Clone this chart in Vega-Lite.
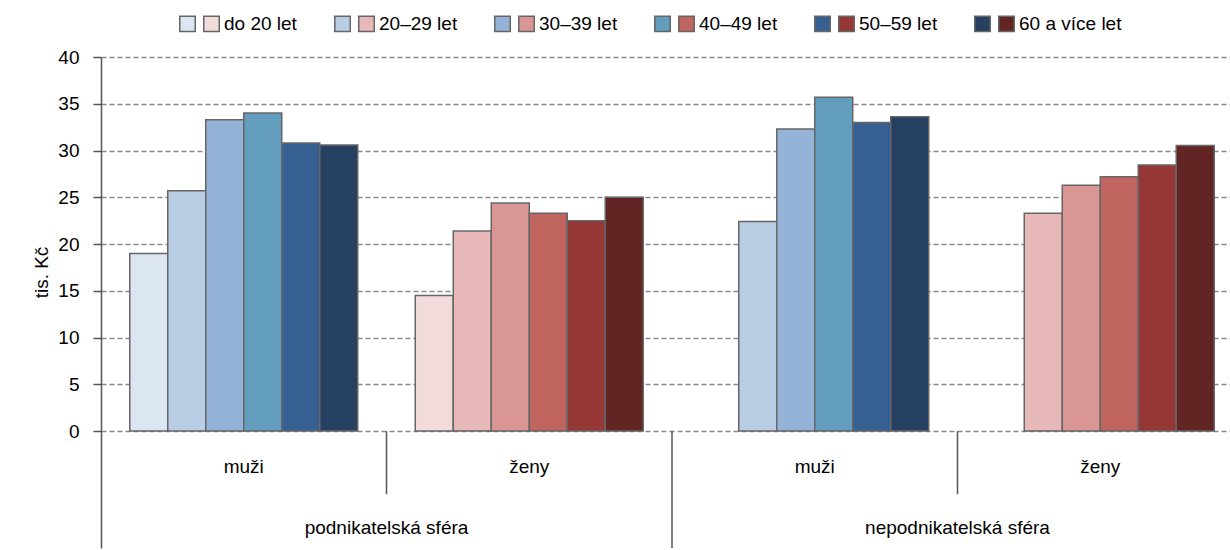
{
  "$schema": "https://vega.github.io/schema/vega-lite/v6.json",
  "autosize": "none",
  "width": 1142,
  "height": 491,
  "padding": {"left": 101, "top": 57, "right": 0, "bottom": 2},
  "background": "white",
  "config": {
    "font": "Liberation Sans",
    "view": {"stroke": null},
    "axis": {"labelFont": "Liberation Sans", "titleFont": "Liberation Sans"}
  },
  "datasets": {
    "bars": [
      {"grp": "p-m", "age": "do 20 let", "key": "muži|do 20 let", "v": 19.0},
      {"grp": "p-m", "age": "20–29 let", "key": "muži|20–29 let", "v": 25.7},
      {"grp": "p-m", "age": "30–39 let", "key": "muži|30–39 let", "v": 33.3},
      {"grp": "p-m", "age": "40–49 let", "key": "muži|40–49 let", "v": 34.0},
      {"grp": "p-m", "age": "50–59 let", "key": "muži|50–59 let", "v": 30.8},
      {"grp": "p-m", "age": "60 a více let", "key": "muži|60 a více let", "v": 30.6},
      {"grp": "p-z", "age": "do 20 let", "key": "ženy|do 20 let", "v": 14.5},
      {"grp": "p-z", "age": "20–29 let", "key": "ženy|20–29 let", "v": 21.4},
      {"grp": "p-z", "age": "30–39 let", "key": "ženy|30–39 let", "v": 24.4},
      {"grp": "p-z", "age": "40–49 let", "key": "ženy|40–49 let", "v": 23.3},
      {"grp": "p-z", "age": "50–59 let", "key": "ženy|50–59 let", "v": 22.5},
      {"grp": "p-z", "age": "60 a více let", "key": "ženy|60 a více let", "v": 25.0},
      {"grp": "n-m", "age": "20–29 let", "key": "muži|20–29 let", "v": 22.4},
      {"grp": "n-m", "age": "30–39 let", "key": "muži|30–39 let", "v": 32.3},
      {"grp": "n-m", "age": "40–49 let", "key": "muži|40–49 let", "v": 35.7},
      {"grp": "n-m", "age": "50–59 let", "key": "muži|50–59 let", "v": 33.0},
      {"grp": "n-m", "age": "60 a více let", "key": "muži|60 a více let", "v": 33.6},
      {"grp": "n-z", "age": "20–29 let", "key": "ženy|20–29 let", "v": 23.3},
      {"grp": "n-z", "age": "30–39 let", "key": "ženy|30–39 let", "v": 26.3},
      {"grp": "n-z", "age": "40–49 let", "key": "ženy|40–49 let", "v": 27.2},
      {"grp": "n-z", "age": "50–59 let", "key": "ženy|50–59 let", "v": 28.45},
      {"grp": "n-z", "age": "60 a více let", "key": "ženy|60 a více let", "v": 30.55}
    ],
    "inner": [
      {"grp": "p-m", "label": "muži"},
      {"grp": "p-z", "label": "ženy"},
      {"grp": "n-m", "label": "muži"},
      {"grp": "n-z", "label": "ženy"}
    ],
    "outer": [
      {"grp": "p-z", "label": "podnikatelská sféra"},
      {"grp": "n-z", "label": "nepodnikatelská sféra"}
    ],
    "sepInner": [{"grp": "p-z"}, {"grp": "n-z"}],
    "sepOuter": [{"grp": "n-m"}]
  },
  "layer": [
    {
      "data": {"name": "bars"},
      "mark": {"type": "bar", "stroke": "#666666", "strokeWidth": 1.5},
      "encoding": {
        "x": {"field": "grp", "type": "nominal", "axis": null,
              "scale": {"domain": ["p-m", "p-z", "n-m", "n-z"], "paddingInner": 0, "paddingOuter": 0}},
        "xOffset": {"field": "age", "type": "nominal",
              "scale": {"domain": ["do 20 let", "20–29 let", "30–39 let", "40–49 let", "50–59 let", "60 a více let"], "paddingInner": 0, "paddingOuter": 0.757}},
        "y": {"field": "v", "type": "quantitative",
              "scale": {"domain": [-12.5, 40], "nice": false, "zero": false},
              "axis": {"values": [0, 5, 10, 15, 20, 25, 30, 35, 40], "title": "tis. Kč",
                       "titleFontSize": 19, "titleFontWeight": "normal", "titleColor": "#000",
                       "titleX": -60, "titleY": 215, "titleAngle": -90, "titleBaseline": "middle", "titleAlign": "center",
                       "labelFontSize": 19, "labelColor": "#000", "labelPadding": 14,
                       "domainColor": "#555", "domainWidth": 1.5,
                       "tickColor": "#555", "tickWidth": 1.5, "tickSize": 8,
                       "grid": true, "gridColor": "#8a8a8a", "gridDash": [5, 3], "gridWidth": 1.5}},
        "color": {"field": "key", "type": "nominal",
              "scale": {
                "domain": ["muži|do 20 let", "ženy|do 20 let", "muži|20–29 let", "ženy|20–29 let", "muži|30–39 let", "ženy|30–39 let", "muži|40–49 let", "ženy|40–49 let", "muži|50–59 let", "ženy|50–59 let", "muži|60 a více let", "ženy|60 a více let"],
                "range": ["#dce6f2", "#f2dcdb", "#b9cde5", "#e6b9b8", "#95b3d7", "#d99694", "#629dbd", "#c0645f", "#366092", "#953735", "#254061", "#632523"]},
              "legend": {
                "orient": "none", "legendX": 77, "legendY": -43,
                "direction": "horizontal", "columns": 12, "title": null,
                "symbolType": "square", "symbolSize": 240,
                "symbolStrokeColor": "#666666", "symbolStrokeWidth": 1.5,
                "labelFontSize": 19, "labelColor": "#000", "labelOffset": 3,
                "columnPadding": 0, "labelLimit": 400,
                "labelExpr": "slice(datum.label, 0, 4) == 'muži' ? '' : split(datum.label, '|')[1] + '\u00a0\u2800\u2800'"
              }}
      }
    },
    {
      "mark": {"type": "rule", "color": "#666666", "strokeWidth": 1.5},
      "encoding": {"y": {"datum": 40}}
    },
    {
      "data": {"name": "sepInner"},
      "mark": {"type": "rule", "color": "#555555", "strokeWidth": 1.5},
      "encoding": {
        "x": {"field": "grp", "type": "nominal", "bandPosition": 0},
        "y": {"datum": 0},
        "y2": {"datum": -6.75}
      }
    },
    {
      "data": {"name": "sepOuter"},
      "mark": {"type": "rule", "color": "#555555", "strokeWidth": 1.5},
      "encoding": {
        "x": {"field": "grp", "type": "nominal", "bandPosition": 0},
        "y": {"datum": 0},
        "y2": {"datum": -12.5}
      }
    },
    {
      "mark": {"type": "rule", "color": "#555555", "strokeWidth": 2},
      "encoding": {"y": {"datum": 0}}
    },
    {
      "data": {"name": "inner"},
      "mark": {"type": "text", "fontSize": 19, "color": "#000", "baseline": "middle", "font": "Liberation Sans"},
      "encoding": {
        "x": {"field": "grp", "type": "nominal"},
        "y": {"datum": -3.85},
        "text": {"field": "label"}
      }
    },
    {
      "data": {"name": "outer"},
      "mark": {"type": "text", "fontSize": 19, "color": "#000", "baseline": "middle", "font": "Liberation Sans"},
      "encoding": {
        "x": {"field": "grp", "type": "nominal", "bandPosition": 0},
        "y": {"datum": -10.4},
        "text": {"field": "label"}
      }
    }
  ]
}
